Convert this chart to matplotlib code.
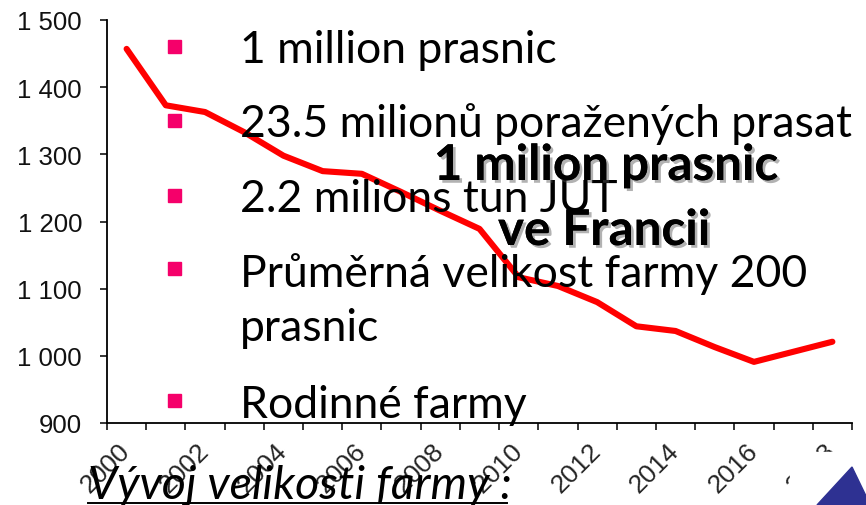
#!/usr/bin/env python3

'Pig farm size in France, slide-style chart.'

import matplotlib
matplotlib.use('Agg')
import matplotlib.pyplot as plt
import matplotlib.patheffects as pe
from matplotlib.patches import Polygon, Rectangle
from matplotlib.lines import Line2D

years = list(range(2000, 2019))
farm_size = [1457, 1373, 1363, 1333, 1298, 1275, 1271, 1244, 1216, 1189,
             1117, 1104, 1080, 1044, 1037, 1013, 991, 1006, 1021]
y_ticks = [900, 1000, 1100, 1200, 1300, 1400, 1500]
y_tick_labels = ['900', '1 000', '1 100', '1 200', '1 300', '1 400', '1 500']
x_tick_years = list(range(2000, 2019, 2))

bullets = [
    '1 million prasnic',
    '23.5 milionů poražených prasat',
    '2.2 milions tun JUT',
    'Průměrná velikost farmy 200\nprasnic',
    'Rodinné farmy',
]
headline = ['1 milion prasnic', 've Francii']
caption = 'Vývoj velikosti farmy :'

W, H = 866, 506


def px(x, y):
    'Pixel position (from top-left) to figure fraction.'
    return x / W, 1 - y / H


plt.rcParams['font.family'] = 'Liberation Sans'
fig = plt.figure(figsize=(W / 100, H / 100), dpi=100)
ax = fig.add_axes([107 / W, (H - 424) / H, 745 / W, 403 / H])

idx = [y - years[0] for y in years]
ax.plot(idx, farm_size, color='#ff0000', lw=4.4,
        solid_capstyle='round', solid_joinstyle='round', zorder=2)

ax.set_xlim(-0.5, len(years) - 0.5)
ax.set_ylim(900, 1500)
for side in ('top', 'right'):
    ax.spines[side].set_visible(False)
for side in ('left', 'bottom'):
    ax.spines[side].set_linewidth(1.3)

ax.tick_params(axis='y', length=5, width=1.1, pad=13, labelsize=18.5,
               labelcolor='#111111')
ax.set_yticks(y_ticks, y_tick_labels)

ax.tick_params(axis='x', which='major', length=0, pad=17, labelsize=19,
               labelcolor='#262626', labelrotation=45)
ax.tick_params(axis='x', which='minor', length=5, width=1.1)
ax.set_xticks([y - years[0] for y in x_tick_years],
              [str(y) for y in x_tick_years])
ax.set_xticks([i - 0.5 for i in range(len(years) + 1)], minor=True)
for lab in ax.get_xticklabels():
    lab.set_rotation_mode('anchor')
    lab.set_ha('right')
    lab.set_va('center')

# bullet list laid over the chart
pink = '#f5006a'
text_kw = dict(family='Lato', fontsize=32, ha='left', color='black',
               linespacing=1.4, zorder=6)
bullet_y = [47, 121, 196, 269, 401]
baselines = [63, 137, 212, 285, 418]
for text, by, base in zip(bullets, bullet_y, baselines):
    fig.add_artist(Rectangle(px(168, by + 7), 13 / W, 13 / H,
                             transform=fig.transFigure, color=pink,
                             zorder=5))
    if '\n' in text:
        fig.text(*px(240, base - 32), text, va='top', **text_kw)
    else:
        fig.text(*px(240, base), text, va='baseline', **text_kw)

shadow = [pe.withSimplePatchShadow(offset=(2, -2), shadow_rgbFace='#555555',
                                   alpha=0.45), pe.Normal()]
for text, (hx, hy) in zip(headline, [(606, 181), (604, 246)]):
    fig.text(*px(hx, hy), text, family='Lato', fontweight='bold',
             fontsize=35.5, ha='center', va='baseline', zorder=7,
             path_effects=shadow)

fig.text(*px(88, 499), caption, family='Lato', style='italic',
         fontsize=33.5, ha='left', va='baseline', zorder=7)
fig.add_artist(Line2D([88 / W, 507 / W], [1 - 504 / H] * 2, color='black',
                      lw=1.4, transform=fig.transFigure, zorder=7))

# corner of the flag picture hides the last year label
fig.add_artist(Rectangle(px(790, 506), 76 / W, 53 / H,
                         transform=fig.transFigure, color='white', zorder=8))
fig.add_artist(Polygon([px(817, 506), px(852, 468), px(866, 497),
                        px(866, 506)], closed=True,
                       transform=fig.transFigure, color='#2e3192', zorder=9))

fig.savefig('out.png', dpi=100)
